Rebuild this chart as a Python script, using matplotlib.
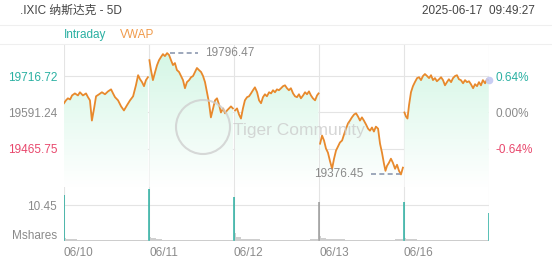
import numpy as np
import matplotlib
matplotlib.use("Agg")
import matplotlib.pyplot as plt
from matplotlib.colors import LinearSegmentedColormap
from matplotlib.patches import Ellipse, PathPatch

plt.rcParams['font.family'] = ['Liberation Sans', 'Noto Sans CJK SC', 'DejaVu Sans']

# NASDAQ composite, 5 day intraday (minutes from open, index value)
day1_t = [0, 9, 18, 28, 37, 50, 64, 73, 87, 101, 110, 119, 128, 138, 147, 161, 174, 188, 202, 216,
          225, 234, 248, 262, 275, 289, 303, 317, 330, 340, 349, 358, 367, 376, 385]
day1_p = [19623, 19633, 19640, 19636, 19650, 19657, 19650, 19661, 19650, 19657, 19644, 19633, 19563, 19605,
          19647, 19654, 19661, 19654, 19664, 19671, 19657, 19644, 19633, 19612, 19598, 19616, 19633, 19647,
          19685, 19720, 19706, 19696, 19682, 19703, 19713]
day2_t = [2, 9, 18, 28, 37, 46, 55, 64, 73, 83, 92, 101, 110, 119, 128, 138, 147, 156, 165, 174,
          184, 193, 202, 211, 220, 229, 239, 248, 257, 266, 275, 284, 294, 303, 312, 321, 330, 340,
          349, 358, 367, 376, 385]
day2_p = [19772, 19738, 19703, 19731, 19755, 19772, 19783, 19793, 19786, 19796.47, 19790, 19772, 19755,
          19762, 19738, 19731, 19717, 19703, 19675, 19696, 19703, 19713, 19717, 19731, 19745, 19738, 19731,
          19717, 19696, 19661, 19626, 19574, 19605, 19633, 19640, 19619, 19591, 19605, 19588, 19598, 19605,
          19612, 19605]
day3_t = [5, 14, 23, 32, 41, 50, 60, 69, 78, 87, 96, 106, 115, 124, 133, 142, 151, 161, 170, 179,
          188, 197, 206, 216, 225, 234, 243, 252, 261, 271, 280, 289, 298, 307, 317, 326, 335, 344,
          353, 362, 372, 381, 388]
day3_p = [19598, 19605, 19584, 19570, 19605, 19633, 19644, 19647, 19657, 19668, 19678, 19661, 19633,
          19623, 19644, 19654, 19647, 19661, 19657, 19668, 19661, 19671, 19668, 19675, 19682, 19685, 19675,
          19668, 19675, 19657, 19647, 19644, 19654, 19640, 19650, 19661, 19654, 19664, 19650, 19640, 19633,
          19650, 19657]
day4_t = [5, 14, 23, 32, 41, 50, 60, 69, 78, 87, 96, 106, 115, 124, 133, 142, 151, 161, 170, 179,
          188, 197, 206, 216, 225, 234, 243, 252, 261, 271, 280, 289, 298, 305, 312, 321, 330, 339,
          349, 358, 367, 376, 385]
day4_p = [19483, 19511, 19494, 19466, 19452, 19424, 19396, 19431, 19459, 19473, 19487, 19494, 19515,
          19535, 19553, 19563, 19574, 19584, 19588, 19577, 19563, 19574, 19563, 19549, 19535, 19528, 19539,
          19525, 19542, 19535, 19483, 19452, 19414, 19389, 19406, 19417, 19431, 19417, 19396, 19410, 19389,
          19376.45, 19400]
day5_t = [2, 9, 16, 23, 32, 41, 50, 60, 69, 78, 87, 96, 106, 115, 124, 133, 142, 151, 161, 170,
          179, 188, 197, 206, 216, 225, 234, 243, 252, 261, 271, 280, 289, 298, 307, 317, 326, 335,
          344, 353, 362, 372, 381, 389]
day5_p = [19591, 19577, 19570, 19616, 19661, 19682, 19696, 19710, 19713, 19703, 19717, 19724, 19717,
          19710, 19720, 19703, 19710, 19699, 19706, 19713, 19703, 19685, 19696, 19706, 19696, 19710, 19717,
          19720, 19706, 19703, 19692, 19703, 19696, 19699, 19689, 19675, 19689, 19682, 19696, 19685, 19703,
          19692, 19706, 19703]

# volume in million shares
vol_t = [0, 3, 10, 30, 60, 120, 200, 280, 350, 385]
day1_v = [13.3, 1.0, 0.7, 0.5, 0.4, 0.35, 0.3, 0.35, 0.4, 0.6]
day2_v = [15.1, 1.1, 0.8, 0.5, 0.4, 0.3, 0.3, 0.35, 0.4, 0.6]
day3_v = [12.8, 2.2, 1.2, 0.7, 0.5, 0.4, 0.35, 0.4, 0.45, 0.6]
day4_v = [11.3, 1.4, 0.9, 0.6, 0.45, 0.35, 0.3, 0.4, 0.45, 0.6]
day5_v = [11.3, 1.0, 0.7, 0.5, 0.4, 0.3, 0.3, 0.35, 0.4, 0.5]
close_v = 8.1
spike_up = [True, True, True, False, True]

prev_close = 19591.24
price_ticks = [19465.75, 19591.24, 19716.72]
pct_labels = ["-0.64%", "0.00%", "0.64%"]
day_labels = ["06/10", "06/11", "06/12", "06/13", "06/16"]
vol_tick = 10.45

DAY = 390
W, H = 552, 265
TEAL = "#2ab0a2"
RED = "#e8476c"
GRAY = "#8a8a8a"
ORANGE = "#e8892c"
GRID = "#e4e4e4"


def px_box(left, top, right, bottom):
    return [left / W, 1 - bottom / H, (right - left) / W, (bottom - top) / H]


def main():
    days_t = [day1_t, day2_t, day3_t, day4_t, day5_t]
    days_p = [day1_p, day2_p, day3_p, day4_p, day5_p]
    days_v = [day1_v, day2_v, day3_v, day4_v, day5_v]

    fig = plt.figure(figsize=(W / 100, H / 100), dpi=100)
    ax = fig.add_axes(px_box(64, 44, 489, 187))
    axv = fig.add_axes(px_box(64, 187, 489, 241))

    ymin, ymax = 19333, 19828
    cmap = LinearSegmentedColormap.from_list("mint", ["#ffffff", "#d2f6e4"])
    grad = np.linspace(0, 1, 256).reshape(-1, 1)

    # price line + gradient fill, one segment per day
    for i in range(5):
        x = np.array(days_t[i]) + i * DAY
        y = np.array(days_p[i])
        poly = ax.fill_between(x, y, ymin, color="none", lw=0)
        patch = PathPatch(poly.get_paths()[0], transform=ax.transData, facecolor="none", edgecolor="none")
        ax.add_patch(patch)
        im = ax.imshow(grad, extent=[i * DAY, (i + 1) * DAY, ymin, ymax], origin="lower",
                       aspect="auto", cmap=cmap, zorder=1)
        im.set_clip_path(patch)
        ax.plot(x, y, color=ORANGE, lw=1.3, zorder=3)

    # last point marker
    ax.plot([4 * DAY + day5_t[-1]], [day5_p[-1]], "o", ms=5.5, mfc="#c3c8f2", mec="none",
            alpha=0.9, zorder=4, clip_on=False)

    # high / low annotations
    all_x = np.concatenate([np.array(days_t[i]) + i * DAY for i in range(5)])
    all_p = np.concatenate([np.array(p) for p in days_p])
    hi, lo = all_p.argmax(), all_p.argmin()
    ax.plot([all_x[hi] + 13, all_x[hi] + 142], [all_p[hi]] * 2, ls=(0, (3, 2)), color="#8d9ab0", lw=1.2, zorder=3)
    ax.text(all_x[hi] + 174, all_p[hi], f"{all_p[hi]:.2f}", color=GRAY, fontsize=8.5, va="center", ha="left")
    ax.plot([all_x[lo] - 138, all_x[lo] - 5], [all_p[lo]] * 2, ls=(0, (3, 2)), color="#8d9ab0", lw=1.2, zorder=3)
    ax.text(all_x[lo] - 170, all_p[lo], f"{all_p[lo]:.2f}", color=GRAY, fontsize=8.5, va="center", ha="right")

    ax.set_xlim(0, 5 * DAY)
    ax.set_ylim(ymin, ymax)
    ax.set_xticks([])
    ax.set_yticks(price_ticks)
    ax.set_yticklabels([f"{v:.2f}" for v in price_ticks], fontsize=8.5)
    for lbl, c in zip(ax.get_yticklabels(), [RED, GRAY, TEAL]):
        lbl.set_color(c)
    ax.tick_params(axis="y", length=0, pad=5)
    ax.grid(axis="y", color=GRID, lw=0.8, zorder=0)
    ax.set_axisbelow(True)

    ax2 = ax.twinx()
    ax2.set_ylim(ymin, ymax)
    ax2.set_yticks(price_ticks)
    ax2.set_yticklabels(pct_labels, fontsize=8.5)
    for lbl, c in zip(ax2.get_yticklabels(), [RED, GRAY, TEAL]):
        lbl.set_color(c)
    ax2.tick_params(axis="y", length=0, pad=5)

    for a in (ax, ax2, axv):
        for s in a.spines.values():
            s.set_visible(False)

    # volume bars
    for i in range(5):
        x = np.array(vol_t) + i * DAY
        axv.fill_between(x, days_v[i], 0, step="post", color="#cfcfcf", lw=0)
        axv.vlines(i * DAY + 1, 0, days_v[i][0], color=TEAL if spike_up[i] else "#9a9a9a", lw=1.1)
    axv.vlines(5 * DAY - 1, 0, close_v, color=TEAL, lw=1.1)

    axv.set_xlim(0, 5 * DAY)
    axv.set_ylim(0, 15.7)
    axv.set_yticks([vol_tick])
    axv.set_yticklabels([f"{vol_tick:.2f}"], fontsize=8.5, color=GRAY)
    axv.tick_params(axis="y", length=0, pad=5)
    axv.grid(axis="y", color=GRID, lw=0.8)
    axv.set_axisbelow(True)
    axv.set_xticks([i * DAY for i in range(5)])
    axv.set_xticklabels(day_labels, fontsize=8.5, color=GRAY, ha="left")
    axv.tick_params(axis="x", length=0, pad=4)
    axv.axhline(0, color="#c8c8c8", lw=1)
    axv.text(-0.017, 0.1, "Mshares", transform=axv.transAxes, ha="right", va="center", fontsize=8.5, color=GRAY)

    # day separators and borders
    for a in (ax, axv):
        for i in range(6):
            a.axvline(i * DAY, color=GRID, lw=0.8, zorder=0.5)

    # header
    fig.text(20 / W, 1 - 11 / H, ".IXIC 纳斯达克 - 5D", fontsize=8.5, color="#444444", va="center")
    fig.text(535 / W, 1 - 11 / H, "2025-06-17  09:49:27", fontsize=8.5, color="#444444", va="center", ha="right")
    fig.text(64 / W, 1 - 35 / H, "Intraday", fontsize=8.5, color=TEAL, va="center")
    fig.text(120 / W, 1 - 35 / H, "VWAP", fontsize=8.5, color="#f09a4a", va="center")
    for yy in (25, 44):
        fig.add_artist(plt.Line2D([0, 1], [1 - yy / H] * 2, color="#efefef", lw=0.8, transform=fig.transFigure))

    # watermark
    fig.add_artist(Ellipse((203 / W, 1 - 127 / H), 54 / W, 54 / H, transform=fig.transFigure,
                           fill=False, edgecolor="#cfcfcf", lw=1.5, alpha=0.8, zorder=5))
    fig.text(233 / W, 1 - 130 / H, "Tiger Community", fontsize=12.5, color="#cccccc", alpha=0.8,
             va="center", zorder=5)

    fig.savefig("out.png", dpi=100)


main()
